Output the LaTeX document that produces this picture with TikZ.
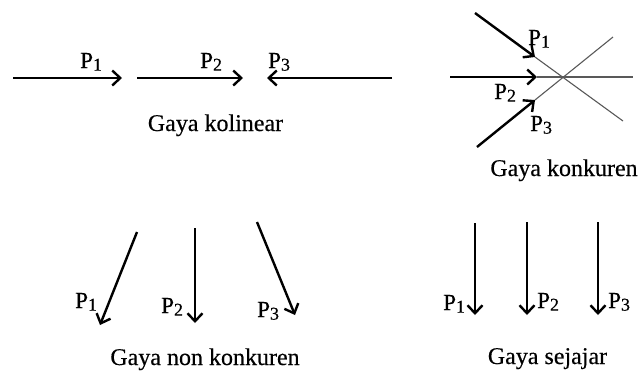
\documentclass[tikz,border=0pt]{standalone}
\usepackage{fontspec}
\setmainfont[FakeBold=0.4,AutoFakeBold=0.4]{Liberation Serif}
\usetikzlibrary{arrows.meta}
\newcommand\Pn[1]{P\raisebox{-0.25ex}{\fontsize{18pt}{18pt}\selectfont #1}}
\begin{document}
\begin{tikzpicture}[x=1pt,y=-1pt,
 force/.style={line width=2.4pt, -{Straight Barb[length=8pt,width=15pt]}},
 thinline/.style={line width=1.1pt, draw=black!65},
 lbl/.style={font=\fontsize{23pt}{23pt}\selectfont, inner sep=0pt, anchor=base west},
 captext/.style={font=\fontsize{24pt}{25pt}\selectfont, inner sep=0pt, anchor=base}]
\useasboundingbox (0,0) rectangle (641,373);
% ---- Gaya kolinear
\coordinate (k1s) at (13,78);  \coordinate (k1e) at (122,78);
\coordinate (k2s) at (137,78); \coordinate (k2e) at (243,78);
\coordinate (k3s) at (392,78); \coordinate (k3e) at (267,78);
\draw[force] (k1s) -- (k1e);
\draw[force] (k2s) -- (k2e);
\draw[force] (k3s) -- (k3e);
\node[lbl] (kp1) at (80,68) {\Pn{1}};
\node[lbl] (kp2) at (200,68) {\Pn{2}};
\node[lbl] (kp3) at (268,68) {\Pn{3}};
\node[captext] (kcap) at (215.5,131) {Gaya kolinear};
% ---- Gaya konkuren
\coordinate (c) at (563,77);
\coordinate (c1s) at (475,13); \coordinate (c1e) at (535,57); \coordinate (c1f) at (623,121);
\coordinate (c2s) at (450,77); \coordinate (c2e) at (537,77); \coordinate (c2f) at (633,77);
\coordinate (c3s) at (477,147); \coordinate (c3e) at (535,100); \coordinate (c3f) at (613,37);
\draw[thinline] (c1e) -- (c1f);
\draw[thinline] (c2e) -- (c2f);
\draw[thinline] (c3e) -- (c3f);
\draw[force] (c1s) -- (c1e);
\draw[force] (c2s) -- (c2e);
\draw[force] (c3s) -- (c3e);
\node[lbl] (cp1) at (528,45) {\Pn{1}};
\node[lbl] (cp2) at (494,99) {\Pn{2}};
\node[lbl] (cp3) at (530,131) {\Pn{3}};
\node[captext] (ccap) at (564,176) {Gaya konkuren};
% ---- Gaya non konkuren
\coordinate (n1s) at (137,232); \coordinate (n1e) at (100,325);
\coordinate (n2s) at (195,228); \coordinate (n2e) at (195,323);
\coordinate (n3s) at (257,222); \coordinate (n3e) at (295,315);
\draw[force] (n1s) -- (n1e);
\draw[force] (n2s) -- (n2e);
\draw[force] (n3s) -- (n3e);
\node[lbl] (np1) at (75,308) {\Pn{1}};
\node[lbl] (np2) at (161,313) {\Pn{2}};
\node[lbl] (np3) at (257,317) {\Pn{3}};
\node[captext] (ncap) at (205,365) {Gaya non konkuren};
% ---- Gaya sejajar
\coordinate (s1s) at (475,223); \coordinate (s1e) at (475,315);
\coordinate (s2s) at (527,222); \coordinate (s2e) at (527,315);
\coordinate (s3s) at (598,222); \coordinate (s3e) at (598,315);
\draw[force] (s1s) -- (s1e);
\draw[force] (s2s) -- (s2e);
\draw[force] (s3s) -- (s3e);
\node[lbl] (sp1) at (443,310) {\Pn{1}};
\node[lbl] (sp2) at (537,308) {\Pn{2}};
\node[lbl] (sp3) at (608,308) {\Pn{3}};
\node[captext] (scap) at (547.5,364) {Gaya sejajar};
\end{tikzpicture}
\end{document}
